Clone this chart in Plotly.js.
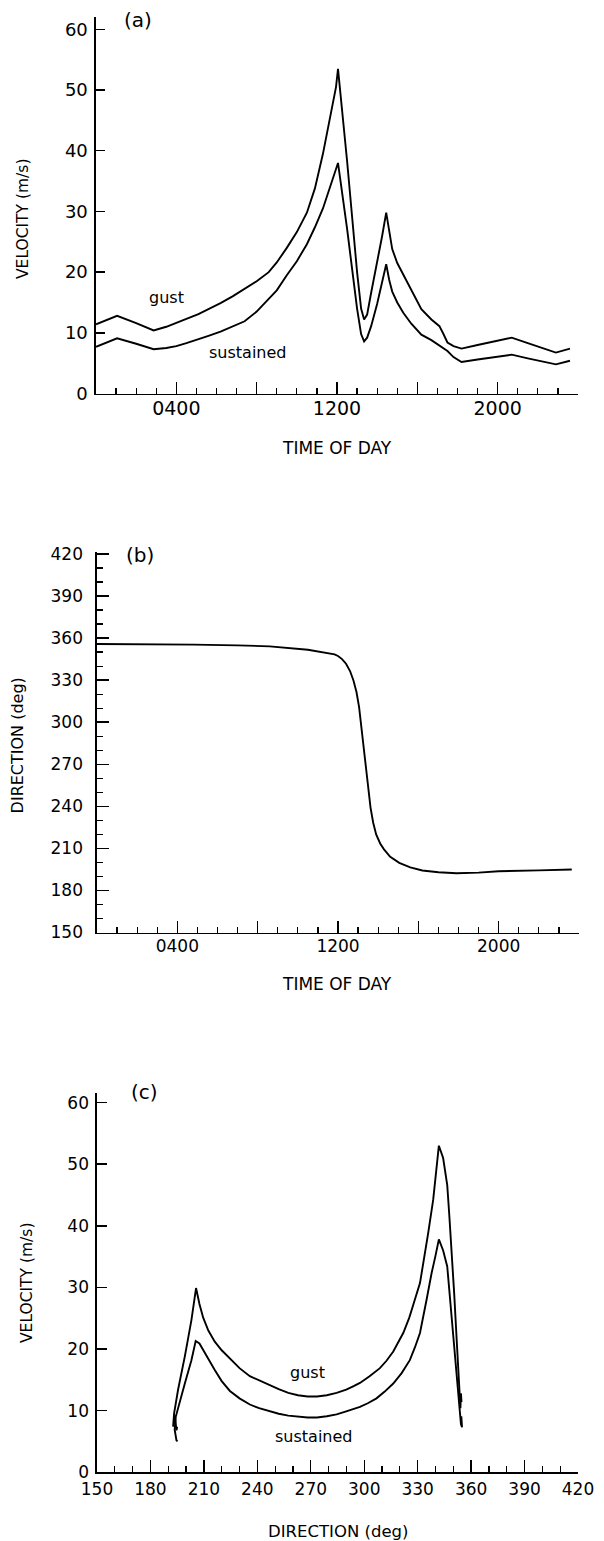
<!DOCTYPE html>
<html>
<head>
<meta charset="utf-8">
<script src="https://cdn.plot.ly/plotly-3.0.1.min.js"></script>
<style>
  html, body { margin: 0; padding: 0; background: #fff; }
  #chart { width: 604px; height: 1541px; }
</style>
</head>
<body>
<div id="chart"></div>
<script>
// ---------- Panel (a): velocity vs time of day ----------
const hoursA = [0, 0.5, 1.05, 2.0, 2.87, 3.5, 4.0, 4.5, 5.1, 5.6, 6.2, 6.8, 7.4, 8.0, 8.6, 9.0, 9.5, 10.0, 10.5, 10.9, 11.3, 11.6, 11.8, 11.95, 12.05, 12.5, 13.0, 13.2, 13.35, 13.5, 13.7, 14.0, 14.25, 14.45, 14.6, 14.75, 15.0, 15.3, 15.7, 16.2, 16.7, 17.1, 17.3, 17.5, 17.8, 18.2, 19.0, 20.0, 20.7, 21.5, 22.3, 22.9, 23.6];
const gustA = [11.4, 12.1, 12.8, 11.6, 10.4, 11.0, 11.7, 12.3, 13.1, 13.9, 14.9, 16.0, 17.2, 18.5, 20.0, 21.6, 24.0, 26.6, 29.8, 33.8, 39.5, 44.5, 47.5, 50.5, 53.5, 38.4, 20.0, 14.0, 12.2, 13.0, 16.6, 21.5, 26.0, 29.8, 26.5, 23.8, 21.5, 19.6, 16.8, 13.9, 12.2, 11.1, 9.8, 8.4, 7.8, 7.4, 8.0, 8.7, 9.2, 8.3, 7.4, 6.75, 7.4];
const sustA = [7.7, 8.4, 9.1, 8.2, 7.3, 7.5, 7.8, 8.3, 8.9, 9.5, 10.2, 11.0, 11.9, 13.5, 15.5, 17.0, 19.5, 21.8, 24.6, 27.4, 30.5, 33.5, 35.5, 37.0, 38.0, 27.2, 14.0, 9.8, 8.6, 9.2, 11.1, 14.8, 18.3, 21.3, 18.7, 16.8, 15.0, 13.3, 11.5, 9.7, 8.8, 7.9, 7.5, 7.0, 6.0, 5.2, 5.6, 6.1, 6.4, 5.8, 5.2, 4.8, 5.4];

// ---------- Panel (b): direction vs time of day ----------
const hoursB = [0, 2, 4.8, 7, 8.6, 10.5, 11.3, 11.83, 12.0, 12.2, 12.4, 12.6, 12.77, 12.92, 13.05, 13.15, 13.24, 13.34, 13.43, 13.53, 13.62, 13.75, 13.9, 14.1, 14.29, 14.6, 15.05, 15.6, 16.2, 17.0, 17.9, 19.0, 20.0, 22.0, 23.64];
const dirB = [355.8, 355.7, 355.3, 354.8, 354.1, 351.7, 349.8, 348.4, 347.2, 345.0, 341.7, 336.5, 329.8, 321.5, 310.7, 298.5, 286.8, 274.8, 263.0, 250.6, 239.1, 228.5, 220.0, 213.5, 209.3, 204.0, 199.7, 196.5, 194.2, 193.0, 192.3, 192.7, 193.7, 194.3, 194.9];

// ---------- Panel (c): velocity vs direction ----------
const dirGustC = [354.6, 354.3, 354.0, 353.7, 352.5, 351.9, 350.5, 349.1, 347.8, 346.6, 344.3, 341.9, 340.3, 338.7, 335.9, 333.5, 331.3, 328.4, 325.3, 321.9, 316.3, 312.5, 308.8, 303.0, 297.6, 293.5, 289.9, 284.5, 279.0, 273.5, 268.2, 262.8, 257.4, 252.0, 246.5, 241.0, 235.8, 230.0, 224.8, 220.0, 216.1, 212.5, 209.6, 207.5, 205.6, 203.0, 199.3, 195.5, 193.3, 192.7, 193.7, 194.6, 195.0];
const gustC = [11.4, 12.8, 10.4, 12.3, 18.4, 21.5, 29.0, 36.1, 41.5, 46.6, 51.0, 53.0, 48.5, 44.2, 38.8, 34.5, 30.7, 28.0, 25.1, 22.6, 19.6, 18.1, 16.9, 15.6, 14.5, 13.9, 13.4, 12.9, 12.5, 12.3, 12.3, 12.5, 12.9, 13.5, 14.2, 14.9, 15.6, 16.9, 18.4, 19.8, 21.2, 23.0, 25.1, 27.3, 29.9, 24.7, 18.8, 13.4, 9.6, 7.4, 9.2, 6.8, 7.4];
const dirSustC = [354.7, 354.5, 354.9, 354.3, 353.2, 351.9, 350.5, 349.1, 347.8, 346.6, 344.3, 341.9, 339.9, 337.8, 335.0, 333.2, 331.3, 328.5, 325.6, 321.0, 316.3, 311.5, 306.9, 302.0, 297.6, 289.9, 284.5, 279.0, 273.5, 268.2, 262.8, 257.4, 252.0, 246.5, 241.0, 235.8, 230.0, 224.6, 220.0, 216.1, 212.5, 209.6, 207.5, 205.4, 203.0, 199.3, 196.1, 194.2, 193.6, 194.6, 195.2];
const sustC = [7.7, 9.1, 7.3, 7.8, 11.5, 16.1, 21.0, 25.8, 30.0, 33.4, 36.0, 37.8, 35.0, 32.3, 28.0, 25.2, 22.6, 20.3, 18.2, 16.1, 14.4, 13.1, 12.0, 11.2, 10.6, 9.9, 9.4, 9.1, 8.9, 8.9, 9.0, 9.2, 9.5, 9.9, 10.4, 11.0, 12.0, 13.2, 14.8, 16.6, 18.4, 20.0, 20.9, 21.3, 18.2, 14.4, 11.2, 9.0, 6.9, 5.2, 5.0];

// ---------- Tick labels ----------
const timeTickVals = [0, 4, 8, 12, 16, 20, 24];
const timeTickText = ['', '0400', '', '1200', '', '2000', ''];
const dirTickVals = [150, 180, 210, 240, 270, 300, 330, 360, 390, 420];
const dirTickText = ['150', '180', '210', '240', '270', '300', '330', '360', '390', '420'];

// ---------- Layout helpers ----------
const W = 604, H = 1541;
const fx = x => x / W;
const fy = y => 1 - y / H;
const FONT = 'DejaVu Sans';
const BLACK = '#000000';

const lineStyle = { color: BLACK, width: 1.9, shape: 'linear' };

const traces = [
  { x: hoursA, y: gustA, xaxis: 'x', yaxis: 'y', mode: 'lines', line: lineStyle, name: 'gust', hoverinfo: 'skip' },
  { x: hoursA, y: sustA, xaxis: 'x', yaxis: 'y', mode: 'lines', line: lineStyle, name: 'sustained', hoverinfo: 'skip' },
  { x: hoursB, y: dirB, xaxis: 'x2', yaxis: 'y2', mode: 'lines', line: lineStyle, name: 'direction', hoverinfo: 'skip' },
  { x: dirGustC, y: gustC, xaxis: 'x3', yaxis: 'y3', mode: 'lines', line: lineStyle, name: 'gust', hoverinfo: 'skip' },
  { x: dirSustC, y: sustC, xaxis: 'x3', yaxis: 'y3', mode: 'lines', line: lineStyle, name: 'sustained', hoverinfo: 'skip' }
];

const baseAxis = {
  showline: true, linecolor: BLACK, linewidth: 1.6, mirror: false,
  showgrid: false, zeroline: false,
  ticks: 'inside', tickcolor: BLACK, tickwidth: 1.4,
  tickfont: { family: FONT, size: 17, color: BLACK },
  fixedrange: true
};

function timeAxis(x0, x1, anchor, fsize, standoff) {
  return Object.assign({}, baseAxis, {
    domain: [fx(x0), fx(x1)], anchor: anchor, range: [0, 24],
    tickmode: 'array', tickvals: timeTickVals, ticktext: timeTickText,
    ticklen: 12, ticklabelstandoff: standoff,
    tickfont: { family: FONT, size: fsize, color: BLACK },
    minor: { tickmode: 'linear', tick0: 0, dtick: 1, ticks: 'inside', ticklen: 6, tickcolor: BLACK, tickwidth: 1.2 }
  });
}

const layout = {
  width: W, height: H,
  margin: { l: 0, r: 0, t: 0, b: 0 },
  paper_bgcolor: '#ffffff', plot_bgcolor: '#ffffff',
  showlegend: false,
  font: { family: FONT, color: BLACK },
  // (a)
  xaxis: timeAxis(96, 578, 'y', 19, -3),
  yaxis: Object.assign({}, baseAxis, {
    domain: [fy(393.5), fy(16.7)], anchor: 'x', range: [0, 62.1],
    tickmode: 'linear', tick0: 0, dtick: 10, ticklen: 9, ticklabelstandoff: 3,
    tickfont: { family: FONT, size: 18, color: BLACK }
  }),
  // (b)
  xaxis2: timeAxis(97, 579, 'y2', 17, -3),
  yaxis2: Object.assign({}, baseAxis, {
    domain: [fy(932.5), fy(551.7)], anchor: 'x2', range: [150, 421.6],
    tickmode: 'array', tickvals: dirTickVals, ticktext: dirTickText,
    ticklen: 12, ticklabelstandoff: 9,
    minor: { tickmode: 'linear', tick0: 150, dtick: 10, ticks: 'inside', ticklen: 6, tickcolor: BLACK, tickwidth: 1.2 }
  }),
  // (c)
  xaxis3: Object.assign({}, baseAxis, {
    domain: [fx(97), fx(578)], anchor: 'y3', range: [150, 420],
    tickmode: 'array', tickvals: dirTickVals, ticktext: dirTickText,
    ticklen: 12, ticklabelstandoff: 1,
    minor: { tickmode: 'linear', tick0: 150, dtick: 10, ticks: 'inside', ticklen: 6, tickcolor: BLACK, tickwidth: 1.2 }
  }),
  yaxis3: Object.assign({}, baseAxis, {
    domain: [fy(1472.3), fy(1092.7)], anchor: 'x3', range: [0, 61.6],
    tickmode: 'linear', tick0: 0, dtick: 10, ticklen: 10, ticklabelstandoff: 3,
    tickfont: { family: FONT, size: 17, color: BLACK }
  }),
  annotations: [
    // panel tags
    { text: '(a)', xref: 'paper', yref: 'paper', x: fx(138), y: fy(20), xanchor: 'center', yanchor: 'middle', showarrow: false, font: { family: FONT, size: 20, color: BLACK } },
    { text: '(b)', xref: 'paper', yref: 'paper', x: fx(140), y: fy(555), xanchor: 'center', yanchor: 'middle', showarrow: false, font: { family: FONT, size: 20, color: BLACK } },
    { text: '(c)', xref: 'paper', yref: 'paper', x: fx(144), y: fy(1091.7), xanchor: 'center', yanchor: 'middle', showarrow: false, font: { family: FONT, size: 20, color: BLACK } },
    // axis titles
    { text: 'VELOCITY (m/s)', xref: 'paper', yref: 'paper', x: fx(23), y: fy(219), textangle: -90, xanchor: 'center', yanchor: 'middle', showarrow: false, font: { family: FONT, size: 15.5, color: BLACK } },
    { text: 'TIME OF DAY', xref: 'paper', yref: 'paper', x: fx(337), y: fy(448), xanchor: 'center', yanchor: 'middle', showarrow: false, font: { family: FONT, size: 17, color: BLACK } },
    { text: 'DIRECTION (deg)', xref: 'paper', yref: 'paper', x: fx(17.4), y: fy(745), textangle: -90, xanchor: 'center', yanchor: 'middle', showarrow: false, font: { family: FONT, size: 16, color: BLACK } },
    { text: 'TIME OF DAY', xref: 'paper', yref: 'paper', x: fx(337), y: fy(984.3), xanchor: 'center', yanchor: 'middle', showarrow: false, font: { family: FONT, size: 17, color: BLACK } },
    { text: 'VELOCITY (m/s)', xref: 'paper', yref: 'paper', x: fx(27), y: fy(1283), textangle: -90, xanchor: 'center', yanchor: 'middle', showarrow: false, font: { family: FONT, size: 15.5, color: BLACK } },
    { text: 'DIRECTION (deg)', xref: 'paper', yref: 'paper', x: fx(337.5), y: fy(1531.7), xanchor: 'center', yanchor: 'middle', showarrow: false, font: { family: FONT, size: 16.5, color: BLACK } },
    // curve labels
    { text: 'gust', xref: 'x', yref: 'y', x: 3.49, y: 15.9, xanchor: 'center', yanchor: 'middle', showarrow: false, font: { family: FONT, size: 16, color: BLACK } },
    { text: 'sustained', xref: 'x', yref: 'y', x: 7.52, y: 6.78, xanchor: 'center', yanchor: 'middle', showarrow: false, font: { family: FONT, size: 16, color: BLACK } },
    { text: 'gust', xref: 'x3', yref: 'y3', x: 268.2, y: 16.2, xanchor: 'center', yanchor: 'middle', showarrow: false, font: { family: FONT, size: 16, color: BLACK } },
    { text: 'sustained', xref: 'x3', yref: 'y3', x: 271.7, y: 5.86, xanchor: 'center', yanchor: 'middle', showarrow: false, font: { family: FONT, size: 16, color: BLACK } }
  ]
};

Plotly.newPlot('chart', traces, layout, { displayModeBar: false, staticPlot: true, responsive: false });
</script>
</body>
</html>
